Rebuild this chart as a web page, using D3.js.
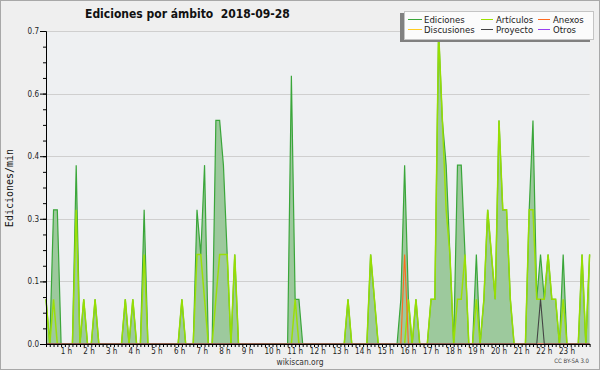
<!DOCTYPE html>
<html><head><meta charset="utf-8">
<script src="https://cdn.jsdelivr.net/npm/d3@7"></script>
<style>
body{margin:0;background:#efefef;}
svg{display:block}
text{font-family:"DejaVu Sans Condensed","DejaVu Sans",sans-serif;font-stretch:condensed;}
</style>
</head><body><svg id="c" width="600" height="370"></svg>
<script>
// ---------- data ----------
const chartTitle = "Ediciones por ámbito  2018-09-28";
const yLabel = "Ediciones/min";
const seriesNames = ["Ediciones","Artículos","Anexos","Discusiones","Proyecto","Otros"];
const seriesColors = ["#3aa63a","#9be000","#ff6a1f","#ffcc22","#444444","#9940f0"];
// one value every 10 minutes, 00:00 .. 24:00 (one row per hour)
const ediciones = [
 0.1,0,0.3,0.3,0,0,
 0,0,0.4,0,0.1,0,
 0,0.1,0,0,0,0,
 0,0,0,0.1,0,0.1,
 0,0,0.3,0,0,0,
 0,0,0,0,0,0,
 0.1,0,0,0,0.3,0.2,
 0.4,0,0,0.5,0.5,0.4,
 0.2,0,0.2,0,0,0,
 0,0,0,0,0,0,
 0,0,0,0,0,0.6,
 0.1,0.1,0,0,0,0,
 0,0,0,0,0,0,
 0,0,0.1,0,0,0,
 0,0,0.2,0.1,0,0,
 0,0,0,0,0.1,0.4,
 0.1,0,0.1,0,0,0,
 0.1,0.1,0.7,0.5,0.4,0.2,
 0,0.4,0.4,0.2,0,0,
 0.2,0,0.1,0.3,0.2,0.1,
 0.5,0.3,0.3,0.1,0,0,
 0,0,0.3,0.5,0.1,0.2,
 0.1,0.2,0.1,0.1,0,0.2,
 0,0,0,0,0.2,0,
 0.2];
const articulos = [
 0.1,0,0.1,0,0,0,
 0,0,0.3,0,0.1,0,
 0,0.1,0,0,0,0,
 0,0,0,0.1,0,0.1,
 0,0,0.2,0,0,0,
 0,0,0,0,0,0,
 0.1,0,0,0,0.2,0.2,
 0.1,0,0,0.1,0.2,0.2,
 0.2,0,0.2,0,0,0,
 0,0,0,0,0,0,
 0,0,0,0,0,0,
 0.1,0,0,0,0,0,
 0,0,0,0,0,0,
 0,0,0.1,0,0,0,
 0,0,0.2,0.1,0,0,
 0,0,0,0,0,0,
 0.1,0,0.1,0,0,0,
 0.1,0.1,0.7,0.5,0.3,0.2,
 0,0.1,0.1,0.2,0,0,
 0.1,0,0.1,0.3,0.2,0.1,
 0.5,0.3,0.3,0.1,0,0,
 0,0,0.3,0.3,0.1,0.1,
 0.1,0.2,0.1,0.1,0,0.1,
 0,0,0,0,0.2,0,
 0.2];
const anexos = [
 0,0,0,0,0,0, 0,0,0,0,0,0, 0,0,0,0,0,0, 0,0,0,0,0,0,
 0,0,0,0,0,0, 0,0,0,0,0,0, 0,0,0,0,0,0, 0,0,0,0,0,0,
 0,0,0,0,0,0, 0,0,0,0,0,0, 0,0,0,0,0,0, 0,0,0,0,0,0,
 0,0,0,0,0,0, 0,0,0,0,0,0, 0,0,0,0,0,0, 0,0,0,0,0,0.2,
 0,0,0,0,0,0, 0,0,0,0,0,0, 0,0,0,0,0,0, 0,0,0,0,0,0,
 0,0,0,0,0,0, 0,0,0,0,0,0, 0,0,0,0,0,0, 0,0,0,0,0,0,
 0];
const discusiones = [
 0,0,0,0,0,0, 0,0,0,0,0,0, 0,0,0,0,0,0, 0,0,0,0,0,0,
 0,0,0,0,0,0, 0,0,0,0,0,0, 0,0,0,0,0,0, 0,0,0,0,0,0,
 0,0,0,0,0,0, 0,0,0,0,0,0, 0,0,0,0,0,0, 0,0,0,0,0,0,
 0,0,0,0,0,0, 0,0,0,0,0,0, 0,0,0,0,0,0, 0,0,0,0,0,0,
 0,0,0,0,0,0, 0,0,0,0,0,0, 0,0,0,0,0,0, 0,0,0,0,0,0,
 0,0,0,0,0,0, 0,0,0,0,0,0, 0,0,0,0,0,0, 0,0,0,0,0,0,
 0];
const proyecto = [
 0,0,0,0,0,0, 0,0,0,0,0,0, 0,0,0,0,0,0, 0,0,0,0,0,0,
 0,0,0,0,0,0, 0,0,0,0,0,0, 0,0,0,0,0,0, 0,0,0,0,0,0,
 0,0,0,0,0,0, 0,0,0,0,0,0, 0,0,0,0,0,0, 0,0,0,0,0,0,
 0,0,0,0,0,0, 0,0,0,0,0,0, 0,0,0,0,0,0, 0,0,0,0,0,0,
 0,0,0,0,0,0, 0,0,0,0,0,0, 0,0,0,0,0,0, 0,0,0,0,0,0,
 0,0,0,0,0,0, 0,0,0,0,0,0.1, 0,0,0,0,0,0, 0,0,0,0,0,0,
 0];
const otros = [
 0,0,0,0,0,0, 0,0,0,0,0,0, 0,0,0,0,0,0, 0,0,0,0,0,0,
 0,0,0,0,0,0, 0,0,0,0,0,0, 0,0,0,0,0,0, 0,0,0,0,0,0,
 0,0,0,0,0,0, 0,0,0,0,0,0, 0,0,0,0,0,0, 0,0,0,0,0,0,
 0,0,0,0,0,0, 0,0,0,0,0,0, 0,0,0,0,0,0, 0,0,0,0,0,0,
 0,0,0,0,0,0, 0,0,0,0,0,0, 0,0,0,0,0,0, 0,0,0,0,0,0,
 0,0,0,0,0,0, 0,0,0,0,0,0, 0,0,0,0,0,0, 0,0,0,0,0,0,
 0];
const hourLabels = ["1 h","2 h","3 h","4 h","5 h","6 h","7 h","8 h","9 h","10 h","11 h","12 h",
  "13 h","14 h","15 h","16 h","17 h","18 h","19 h","20 h","21 h","22 h","23 h"];
const yTickValues = [0,0.14,0.28,0.42,0.56,0.7];
const sourceText = "wikiscan.org";
const licenseText = "CC BY-SA 3.0";

// ---------- drawing ----------
const svg = d3.select("#c");
const L = 46, R = 589.6, T = 31, B = 344;
const x = d3.scaleLinear().domain([0, 1440]).range([L, R]);
const y = d3.scaleLinear().domain([0, 0.7]).range([B, T]);
const tmin = i => i * 10;

svg.append("rect").attr("x",0.5).attr("y",0.5).attr("width",599).attr("height",369)
  .attr("fill","#efefef").attr("stroke","#a8a8a8");
svg.append("rect").attr("x",L).attr("y",T).attr("width",R-L).attr("height",B-T).attr("fill","#eef0f2");

// grid
svg.append("g").selectAll("line").data(yTickValues.filter(d=>d>0)).join("line")
  .attr("x1",L).attr("x2",R).attr("y1",d=>Math.round(y(d))+0.5).attr("y2",d=>Math.round(y(d))+0.5)
  .attr("stroke","#cfcfcf");

// Ediciones area + lines
svg.append("path").datum(ediciones)
  .attr("d", d3.area().x((d,i)=>x(tmin(i))).y0(y(0)).y1(d=>y(d)))
  .attr("fill","#9dc99d");
const line = d3.line().x((d,i)=>x(tmin(i))).y(d=>y(d));
svg.append("path").datum(ediciones).attr("d",line).attr("fill","none")
  .attr("stroke",seriesColors[0]).attr("stroke-width",1.2);
svg.append("path").datum(articulos).attr("d",line).attr("fill","none")
  .attr("stroke",seriesColors[1]).attr("stroke-width",1.5).attr("stroke-opacity",0.95);
[[discusiones,3],[otros,5],[anexos,2],[proyecto,4]].forEach(([arr,k])=>{
  svg.append("path").datum(arr).attr("d",line).attr("fill","none")
    .attr("stroke",seriesColors[k]).attr("stroke-width",1.1);
});

// x axis
const xAxis = d3.axisBottom(x).tickValues(d3.range(0,1441,10)).tickSizeInner(3).tickSizeOuter(0).tickFormat("");
const gx = svg.append("g").attr("transform",`translate(0,${B})`).call(xAxis);
svg.append("g").selectAll("text").data(hourLabels).join("text")
  .attr("x",(d,i)=>x((i+1)*60)-8).attr("y",353.5)
  .attr("font-size","8px").attr("fill","#222").text(d=>d);

// y axis
const gyMinor = svg.append("g").attr("transform",`translate(${L},0)`)
  .call(d3.axisLeft(y).tickValues(d3.range(0,0.7001,0.035)).tickSizeInner(3).tickSizeOuter(0).tickFormat(""));
const gy = svg.append("g").attr("transform",`translate(${L},0)`)
  .call(d3.axisLeft(y).tickValues(yTickValues).tickSizeInner(6).tickSizeOuter(0).tickPadding(1).tickFormat(d3.format(".1f")));
[gx, gyMinor, gy].forEach(g => g.selectAll("path,line").attr("stroke","#000"));
gy.selectAll("text").attr("font-size","8px").attr("fill","#222").attr("font-family",null);
svg.append("text").attr("transform","translate(13,188) rotate(-90)").attr("text-anchor","middle")
  .style("font-family","'DejaVu Sans Mono',monospace").style("font-stretch","normal")
  .attr("font-size","10px").attr("fill","#111").text(yLabel);

// title
svg.append("text").attr("x",85).attr("y",18.3).attr("font-size","12px").attr("font-weight","bold")
  .style("white-space","pre").attr("xml:space","preserve")
  .attr("fill","#111").text(chartTitle);

// legend
svg.append("rect").attr("x",400).attr("y",13).attr("width",190).attr("height",29).attr("fill","#808080");
svg.append("rect").attr("x",404.5).attr("y",11.5).attr("width",189).attr("height",28)
  .attr("fill","#fbfbfb").attr("stroke","#c4c4c4");
const legPos = [[408,19.5],[481,19.5],[538,19.5],[408,29.5],[481,29.5],[538,29.5]];
const legOrder = [0,1,2,3,4,5];
const lg = svg.append("g");
legOrder.forEach((k,j)=>{
  const [lx,ly] = legPos[j];
  lg.append("line").attr("x1",lx).attr("x2",lx+(j%3===0?14:12)).attr("y1",ly).attr("y2",ly)
    .attr("stroke",seriesColors[k]).attr("stroke-width",1);
  lg.append("text").attr("x",lx+(j%3===0?16:15)).attr("y",ly+3.2).attr("font-size","9.5px")
    .attr("fill","#222").text(seriesNames[k]);
});

// footer
svg.append("text").attr("x",300).attr("y",365).attr("text-anchor","middle").attr("font-size","8.4px")
  .attr("fill","#333").text(sourceText);
svg.append("text").attr("x",589).attr("y",363).attr("text-anchor","end").attr("font-size","6px")
  .attr("fill","#444").text(licenseText);
</script>
</body></html>
